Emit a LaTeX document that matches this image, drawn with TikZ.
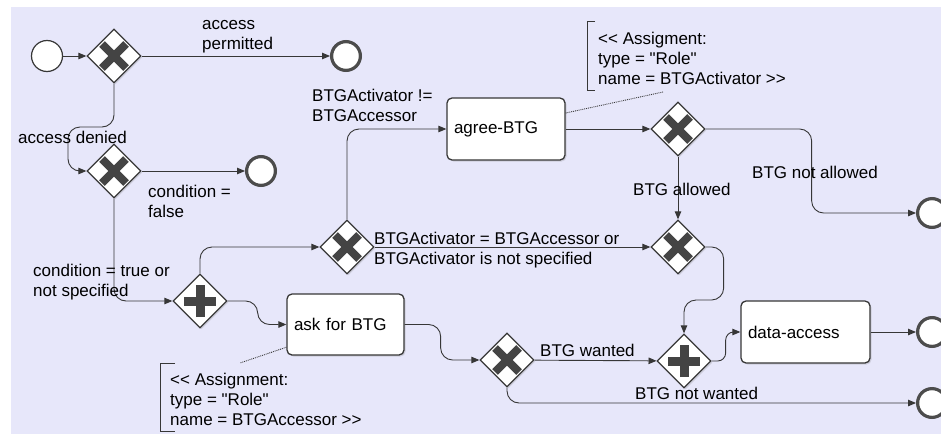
\documentclass[tikz,border=0pt]{standalone}
\usepackage{fontspec}
\newfontfamily\bpmnfont{Liberation Sans}
\usetikzlibrary{shapes.geometric,arrows.meta,shadows}
\definecolor{bpmnbg}{RGB}{231,231,250}
\definecolor{bpmnline}{RGB}{55,55,55}
\definecolor{bpmnmark}{RGB}{68,68,68}

\begin{document}
\begin{tikzpicture}[x=1pt,y=-1pt,
    font=\bpmnfont\fontsize{17}{20}\selectfont,
    flow/.style={draw=bpmnline,line width=0.9pt,rounded corners=12pt,%
      -{Triangle[length=8pt,width=6.5pt]}},
    assoc/.style={draw=bpmnline,line width=0.9pt,densely dotted},
    bracket/.style={draw=bpmnline,line width=1pt},
    lbl/.style={inner sep=0pt,align=left,anchor=base west},
    startev/.style={circle,draw=bpmnline,line width=1.2pt,fill=white,%
      minimum size=31pt,inner sep=0pt},
    endev/.style={circle,draw=black!70,line width=3.2pt,fill=white,%
      minimum size=28.8pt,inner sep=0pt},
    gate/.style={diamond,draw=bpmnline,line width=1.3pt,fill=white,%
      minimum size=54pt,inner sep=0pt,%
      drop shadow={opacity=0.25,shadow xshift=1.5pt,shadow yshift=-1.5pt}},
    xorgate/.style={gate,path picture={%
      \draw[bpmnmark,line width=8pt] (path picture bounding box.center) ++(-12pt,-12pt) -- ++(24pt,24pt) ;
      \draw[bpmnmark,line width=8pt] (path picture bounding box.center) ++(-12pt,12pt) -- ++(24pt,-24pt) ;}},
    andgate/.style={gate,path picture={%
      \draw[bpmnmark,line width=9pt] (path picture bounding box.center) ++(-16pt,0pt) -- ++(32pt,0pt) ;
      \draw[bpmnmark,line width=9pt] (path picture bounding box.center) ++(0pt,-16pt) -- ++(0pt,32pt) ;}},
    task/.style={draw=bpmnline,line width=1.3pt,fill=white,rounded corners=5pt,%
      minimum height=62pt,inner sep=7pt,align=left,%
      drop shadow={opacity=0.25,shadow xshift=1.5pt,shadow yshift=-1.5pt}}]
      \useasboundingbox (0,0) rectangle (941,434) ;
      \fill[white] (0,0) rectangle (941,434) ;
      \fill[bpmnbg] (11,7) rectangle (941,434) ;

      % events, gateways and tasks
      \node[startev] (start) at (47,56) {} ;
      \node[xorgate] (g1) at (114,56) {} ;
      \node[endev] (e1) at (346,56) {} ;
      \node[xorgate] (g2) at (114,171) {} ;
      \node[endev] (e2) at (261,171) {} ;
      \node[andgate] (g3) at (200,301) {} ;
      \node[xorgate] (g4) at (347,247) {} ;
      \node[task,text width=104pt] (agree) at (506,129) {agree-BTG} ;
      \node[task,text width=103pt,minimum height=61pt] (ask) at (345.5,324.5) {ask for BTG} ;
      \node[xorgate] (g5) at (678,129) {} ;
      \node[xorgate] (g6) at (678,247) {} ;
      \node[xorgate] (g8) at (507,360) {} ;
      \node[andgate] (g7) at (684,361) {} ;
      \node[task,text width=115pt] (data) at (805.5,332) {data-access} ;
      \node[endev] (e3) at (932,213) {} ;
      \node[endev] (e4) at (932,332) {} ;
      \node[endev] (e5) at (932,403) {} ;

      % sequence flows
      \draw[flow] (start) -- (g1) ;
      \draw[flow] (g1) -- (e1) ;
      \draw[flow] (g1.south) |- (68,127) |- (g2.west) ;
      \draw[flow] (g2) -- (e2) ;
      \draw[flow] (g2.south) |- (g3.west) ;
      \draw[flow] (g3.north) |- (g4.west) ;
      \draw[flow] (g3.east) -- ++(30,0) |- (ask.west) ;
      \draw[flow] (g4.north) |- (agree.west) ;
      \draw[flow] (g4) -- (g6) ;
      \draw[flow] (agree) -- (g5) ;
      \draw[flow] (g5) -- (g6) ;
      \draw[flow] (g5.east) -- ++(106,0) |- (e3.west) ;
      \draw[flow] (g6.east) -| ++(18,53) -| (g7.north) ;
      \draw[flow] (ask.east) -- ++(36,0) |- (g8.west) ;
      \draw[flow] (g8) -- (g7) ;
      \draw[flow] (g8.south) |- (e5.west) ;
      \draw[flow,rounded corners=8pt] (g7.east) -- ++(14,0) |- (data.west) ;
      \draw[flow] (data) -- (e4) ;

      % flow labels (base = last line)
      \node[lbl] (lpermit) at (202,49) {access\\permitted} ;
      \node[lbl] (ldenied) at (18,143) {access denied} ;
      \node[lbl] (lfalse) at (148,217) {condition =\\false} ;
      \node[lbl] (ltrue) at (33,296) {condition = true or\\not specified} ;
      \node[lbl] (lneq) at (312,121) {BTGActivator !=\\BTGAccessor} ;
      \node[lbl] (leq) at (374,264) {BTGActivator = BTGAccessor or\\BTGActivator is not specified} ;
      \node[lbl] (lallow) at (633,195) {BTG allowed} ;
      \node[lbl] (lnallow) at (752,178) {BTG not allowed} ;
      \node[lbl] (lwant) at (540,356) {BTG wanted} ;
      \node[lbl] (lnwant) at (635,399) {BTG not wanted} ;

      % annotations
      \node[lbl] (nagree) at (598,84) {<< Assigment:\\type = "Role"\\name = BTGActivator >>} ;
      \draw[bracket] (595,21) -- (587,21) -- (587,90) -- (595,90) ;
      \coordinate (nagreeend) at (663,92) ;
      \draw[assoc] (agree.15) -- (nagreeend) ;
      \node[lbl] (nask) at (170,425) {<< Assignment:\\type = "Role"\\name = BTGAccessor >>} ;
      \draw[bracket] (175,363) -- (160,363) -- (160,431) -- (175,431) ;
      \coordinate (naskend) at (240,363) ;
      \draw[assoc] (ask.201) -- (naskend) ;
    \end{tikzpicture}
\end{document}
